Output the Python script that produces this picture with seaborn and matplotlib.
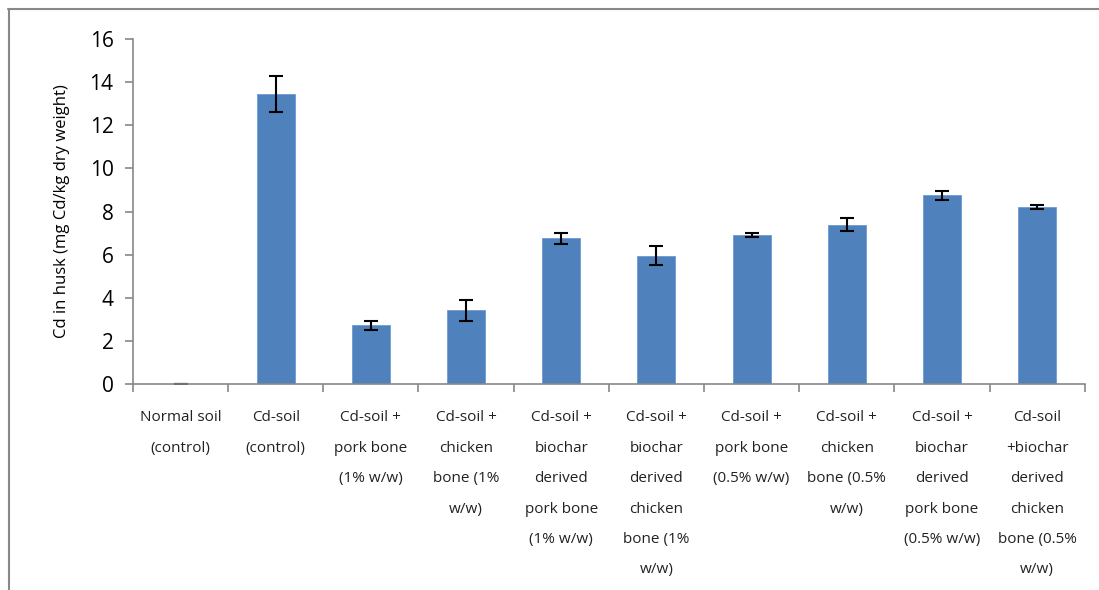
import matplotlib
matplotlib.use("Agg")
import matplotlib.pyplot as plt
import seaborn as sns
import pandas as pd
import numpy as np
from matplotlib.lines import Line2D

categories = [
    "Normal soil\n(control)",
    "Cd-soil\n(control)",
    "Cd-soil +\npork bone\n(1% w/w)",
    "Cd-soil +\nchicken\nbone (1%\nw/w)",
    "Cd-soil +\nbiochar\nderived\npork bone\n(1% w/w)",
    "Cd-soil +\nbiochar\nderived\nchicken\nbone (1%\nw/w)",
    "Cd-soil +\npork bone\n(0.5% w/w)",
    "Cd-soil +\nchicken\nbone (0.5%\nw/w)",
    "Cd-soil +\nbiochar\nderived\npork bone\n(0.5% w/w)",
    "Cd-soil\n+biochar\nderived\nchicken\nbone (0.5%\nw/w)",
]
values = [0.02, 13.44, 2.72, 3.42, 6.76, 5.95, 6.91, 7.39, 8.75, 8.21]
errors = [0.0, 0.82, 0.21, 0.50, 0.25, 0.45, 0.11, 0.29, 0.21, 0.10]
yticks = [0, 2, 4, 6, 8, 10, 12, 14, 16]

sns.set_theme(style="white")
plt.rcParams['font.family'] = ['Open Sans', 'DejaVu Sans']

fig = plt.figure(figsize=(10.99, 5.90), dpi=100)
ax = fig.add_axes([0.121, 0.349, 0.866, 0.585])

df = pd.DataFrame({"cat": categories, "val": values, "err": errors})
sns.barplot(data=df, x="cat", y="val", order=categories, color="#4F81BD",
            saturation=1, width=0.4, ax=ax, errorbar=None, edgecolor="#6F9AD0",
            linewidth=0.6)
ax.errorbar(np.arange(len(categories)), df["val"], yerr=df["err"], fmt="none",
            ecolor="black", elinewidth=1.5, capsize=5, capthick=1.5)

ax.set_ylim(0, 16)
ax.set_xlim(-0.5, len(categories) - 0.5)
ax.set_yticks(yticks)
ax.set_yticklabels([str(t) for t in yticks], fontsize=15, color="black")
ax.set_xticks(np.arange(len(categories)))
ax.set_xticklabels(categories, fontsize=11, color="#222222", linespacing=2.4,
                   va="top")
ax.set_xticks(np.arange(len(categories) + 1) - 0.5, minor=True)
ax.tick_params(axis="x", which="major", length=0, pad=19)
ax.tick_params(axis="x", which="minor", length=6, width=1.2, color="#888888",
               direction="out", bottom=True)
ax.tick_params(axis="y", length=6, width=1.2, color="#888888", direction="out",
               left=True, pad=8)
ax.set_xlabel("")
ax.set_ylabel("Cd in husk (mg Cd/kg dry weight)", fontsize=12, color="black",
              labelpad=14)

for s in ["top", "right"]:
    ax.spines[s].set_visible(False)
for s in ["left", "bottom"]:
    ax.spines[s].set_color("#888888")
    ax.spines[s].set_linewidth(1.2)

# chart-area border (top and left visible)
fig.add_artist(Line2D([8 / 1099, 1.0], [1 - 9 / 590, 1 - 9 / 590],
                      transform=fig.transFigure, color="#888888", lw=1.5))
fig.add_artist(Line2D([8.5 / 1099, 8.5 / 1099], [0, 1 - 9 / 590],
                      transform=fig.transFigure, color="#888888", lw=1.5))

fig.savefig("out.png", dpi=100)
